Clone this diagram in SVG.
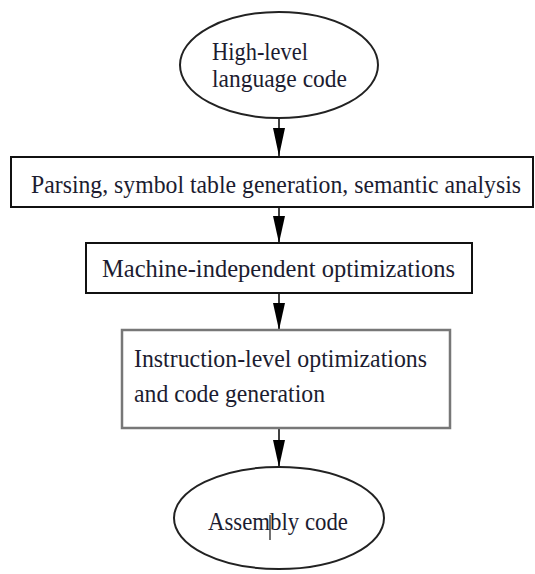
<svg xmlns="http://www.w3.org/2000/svg" width="535" height="574" viewBox="0 0 535 574">
<style>
.t{font-family:"Liberation Serif","DejaVu Serif",serif;font-size:26px;fill:#1c1c30}
.e{fill:#fff;stroke:#222;stroke-width:2}
.b{fill:#fff;stroke:#111;stroke-width:2}
.g{fill:#fff;stroke:#777;stroke-width:2.5}
.c{stroke:#000;stroke-width:1.5;fill:none}
.h{fill:#000}
</style>
<rect width="535" height="574" fill="#fff"/>
<g id="connectors">
<line class="c" x1="279" y1="118" x2="279" y2="156"/>
<path class="h" d="M273,128 L285,128 L279,156 Z"/>
<line class="c" x1="279" y1="207" x2="279" y2="243"/>
<path class="h" d="M273,216 L285,216 L279,243 Z"/>
<line class="c" x1="279" y1="293" x2="279" y2="330"/>
<path class="h" d="M273,303 L285,303 L279,330 Z"/>
<line class="c" x1="279" y1="429" x2="279" y2="467"/>
<path class="h" d="M273,440 L285,440 L279,467 Z"/>
</g>
<g id="n1">
<ellipse class="e" cx="279" cy="65" rx="99" ry="53"/>
<text class="t" x="212" y="60" textLength="96" lengthAdjust="spacingAndGlyphs">High-level</text>
<text class="t" x="212" y="87" textLength="135" lengthAdjust="spacingAndGlyphs">language code</text>
</g>
<g id="n2">
<rect class="b" x="11" y="157" width="522" height="50"/>
<text class="t" transform="translate(31,193) scale(1,1.13)" x="0" y="0" style="font-size:23px" textLength="490" lengthAdjust="spacingAndGlyphs">Parsing, symbol table generation, semantic analysis</text>
</g>
<g id="n3">
<rect class="b" x="86" y="243" width="386" height="50"/>
<text class="t" x="102" y="277" textLength="353" lengthAdjust="spacingAndGlyphs">Machine-independent optimizations</text>
</g>
<g id="n4">
<rect class="g" x="122" y="330" width="328" height="98"/>
<text class="t" x="134" y="367" textLength="293" lengthAdjust="spacingAndGlyphs">Instruction-level optimizations</text>
<text class="t" x="134" y="402" textLength="191" lengthAdjust="spacingAndGlyphs">and code generation</text>
</g>
<g id="n5">
<ellipse class="e" cx="279" cy="518" rx="105" ry="51"/>
<text class="t" x="208" y="530" textLength="140" lengthAdjust="spacingAndGlyphs">Assembly code</text>
<line x1="270" y1="515" x2="270" y2="540" stroke="#111" stroke-width="1.2"/>
</g>
</svg>
